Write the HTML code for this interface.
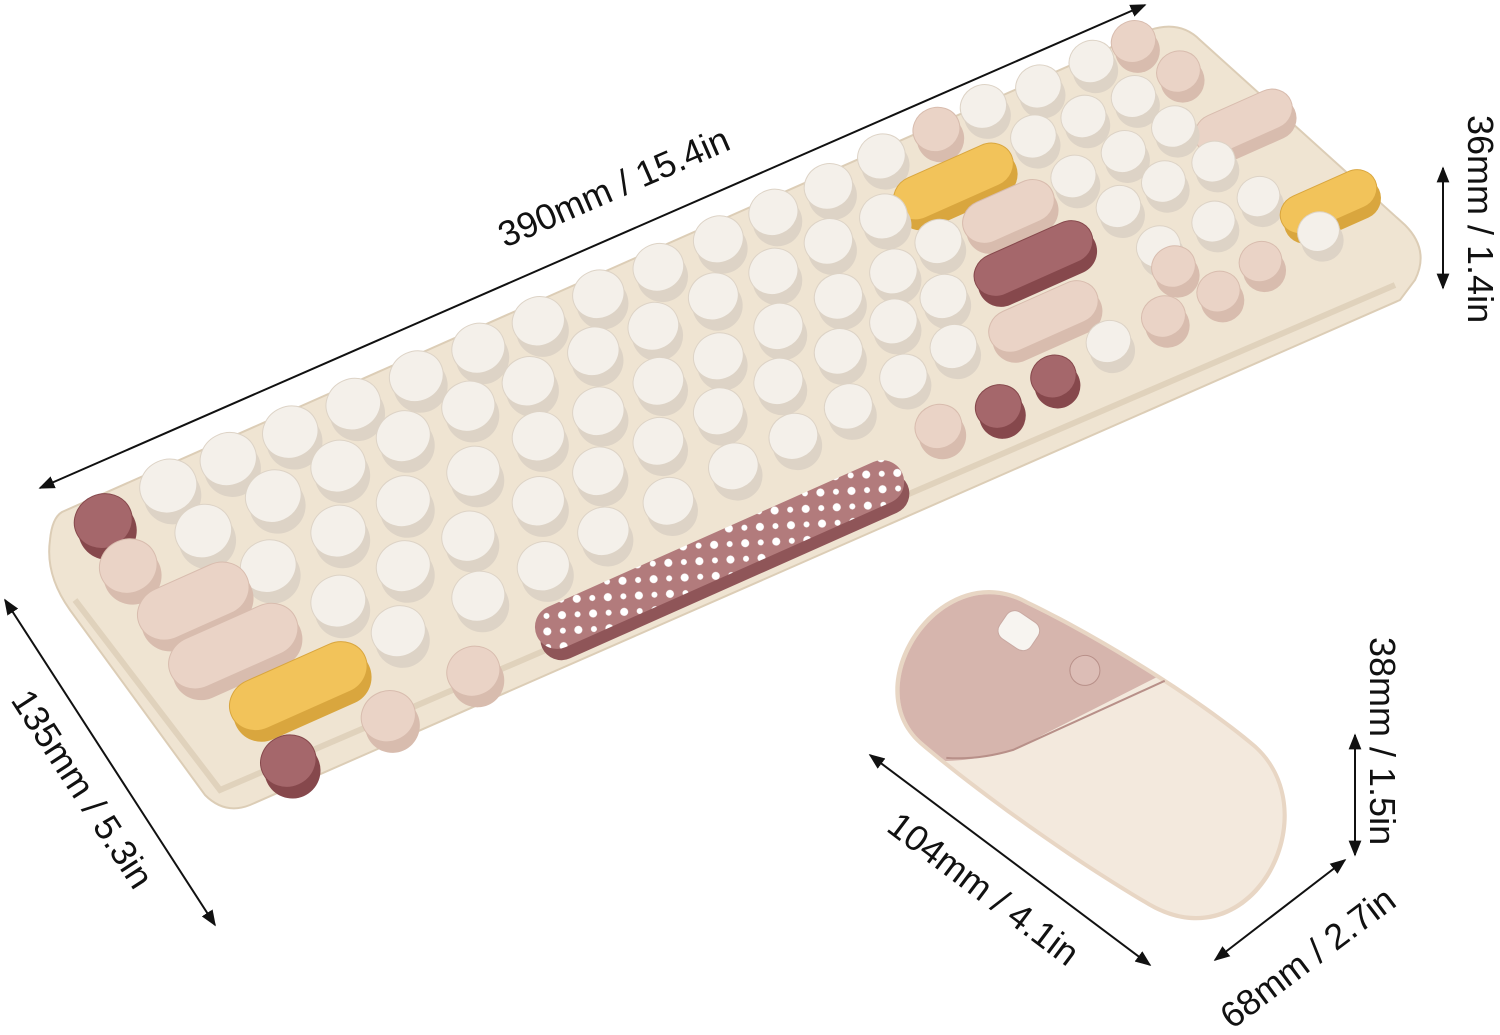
<!DOCTYPE html>
<html><head><meta charset="utf-8"><style>
html,body{margin:0;padding:0;background:#fff;width:1500px;height:1035px;overflow:hidden}
svg{display:block}
.d{font-family:"Liberation Sans",sans-serif;font-size:36px;fill:#111}
</style></head><body>
<svg id="s" width="1500" height="1035" viewBox="0 0 1500 1035" xmlns="http://www.w3.org/2000/svg">
<defs>
<marker id="a" viewBox="0 0 10 10" refX="9" refY="5" markerWidth="8" markerHeight="8" orient="auto-start-reverse"><path d="M0,1 L10,5 L0,9 z" fill="#111"/></marker>
<pattern id="dots" width="22" height="22" patternUnits="userSpaceOnUse" patternTransform="rotate(-24)"><rect width="22" height="22" fill="#b27b7c"/><circle cx="6" cy="6" r="4" fill="#fff"/><circle cx="17" cy="17" r="3" fill="#fff"/></pattern>
<clipPath id="mc"><path d="M-140,-84 C-60,-96 60,-100 130,-92 C226,-78 246,86 130,94 C40,100 -80,96 -150,88 C-234,76 -234,-76 -140,-84 Z"/></clipPath>
</defs>
<path d="M62,512 L1150,30 Q1180,20 1200,40 L1405,225 Q1430,250 1415,280 L1400,300 L250,805 Q225,815 205,795 L70,610 Q45,575 50,540 Q52,518 62,512 Z" fill="#efe4d2" stroke="#dccdb6" stroke-width="2"/>
<path d="M75,600 L220,790 L1395,285" fill="none" stroke="#e0d2bc" stroke-width="6"/>
<g id="keys"></g>
<g transform="translate(722,560) rotate(-24)"><rect x="-200" y="-14" width="400" height="42" rx="21" fill="#8f5558"/><rect x="-200" y="-28" width="400" height="44" rx="22" fill="url(#dots)"/></g>
<!-- mouse -->
<g transform="translate(1095,752) rotate(34)">
<path d="M-140,-88 C-60,-100 60,-104 130,-96 C232,-81 252,90 130,98 C40,104 -80,100 -150,92 C-240,80 -240,-80 -140,-88 Z" fill="#e8d6c4"/>
<g clip-path="url(#mc)">
<rect x="-250" y="-120" width="500" height="240" fill="#f3e9dd"/>
<path d="M-250,-130 L28,-130 L-69,44 Q-92,72 -120,92 L-250,100 Z" fill="#d6b5ad"/>
</g>
<path d="M18,-98 L-69,44 Q-92,72 -120,88" fill="none" stroke="#b89089" stroke-width="2"/>
<rect x="-150" y="-74" width="38" height="32" rx="10" fill="#f7f4f0" stroke="#c9a9a2"/>
<circle cx="-54" cy="-62" r="15" fill="#dcbdb6" stroke="#b89089"/>
</g>
<!-- dimensions -->
<line x1="40" y1="488" x2="1145" y2="5" stroke="#111" stroke-width="2" marker-start="url(#a)" marker-end="url(#a)"/>
<text class="d" transform="translate(505,248) rotate(-23.6)">390mm / 15.4in</text>
<line x1="5" y1="600" x2="215" y2="925" stroke="#111" stroke-width="2" marker-start="url(#a)" marker-end="url(#a)"/>
<text class="d" transform="translate(10,700) rotate(57)">135mm / 5.3in</text>
<line x1="1443" y1="168" x2="1443" y2="288" stroke="#111" stroke-width="2" marker-start="url(#a)" marker-end="url(#a)"/>
<text class="d" transform="translate(1468,115) rotate(90)">36mm / 1.4in</text>
<line x1="1355" y1="735" x2="1355" y2="855" stroke="#111" stroke-width="2" marker-start="url(#a)" marker-end="url(#a)"/>
<text class="d" transform="translate(1370,637) rotate(90)">38mm / 1.5in</text>
<line x1="870" y1="755" x2="1150" y2="965" stroke="#111" stroke-width="2" marker-start="url(#a)" marker-end="url(#a)"/>
<text class="d" transform="translate(885,830) rotate(37)">104mm / 4.1in</text>
<line x1="1215" y1="960" x2="1345" y2="860" stroke="#111" stroke-width="2" marker-start="url(#a)" marker-end="url(#a)"/>
<text class="d" transform="translate(1232,1030) rotate(-37)">68mm / 2.7in</text>
</svg>
<script>
var W="#f4f0ea",P="#ead3c6",M="#a5676b",Y="#f2c35a";
var K=[
[105,525,M,0],[170,490,W],[230,463,W],[292,436,W],[355,408,W],[418,380,W],[480,352,W],[540,325,W],[600,298,W],[660,271,W],[720,243,W],[775,216,W],[830,190,W],[883,160,W],[938,133,P],[985,110,W],[1040,90,W],[1093,65,W],[1135,45,P],
[130,570,P],[205,535,W],[275,500,W],[340,470,W],[405,440,W],[470,410,W],[530,385,W],[595,355,W],[655,330,W],[715,300,W],[775,275,W],[830,245,W],[885,220,W],[955,185,Y,40],[1035,140,W],[1085,120,W],[1135,100,W],[1180,75,P],
[195,605,P,30],[270,570,W],[340,535,W],[405,505,W],[475,475,W],[540,440,W],[600,415,W],[660,385,W],[720,360,W],[780,330,W],[840,300,W],[895,275,W],[940,245,W],[1010,215,P,25],[1075,180,W],[1125,155,W],[1175,130,W],[1245,125,P,30],
[235,650,P,40],[340,605,W],[405,570,W],[470,540,W],[540,505,W],[600,475,W],[660,445,W],[720,415,W],[780,385,W],[840,355,W],[895,325,W],[945,300,W],[1035,262,M,40],[1120,210,W],[1165,185,W],[1215,165,W],[1330,205,Y,30],
[300,690,Y,45],[400,635,W],[480,600,W],[545,570,W],[605,535,W],[670,505,W],[735,470,W],[795,440,W],[850,410,W],[905,380,W],[955,350,W],[1045,320,P,35],[1160,250,W],[1215,225,W],[1260,200,W],[1320,235,W],
[290,765,M],[390,720,P],[475,675,P],[940,430,P],[1000,410,M],[1055,380,M],[1110,345,W],[1165,320,P],[1220,295,P],[1262,265,P],[1175,270,P]
];
var g=document.getElementById("keys"),h="";
K.sort(function(a,b){return a[1]-b[1]});
K.forEach(function(k){var x=k[0],y=k[1],c=k[2],w=k[3]||0,r=30-x/150;
var sh=c==W?"#ddd3c6":c==P?"#d8bcae":c==M?"#86484c":"#d9a63e";
h+='<g transform="translate('+x+','+y+') rotate(-24)">';
h+='<rect x="'+(-r-w)+'" y="'+(-r+6)+'" width="'+(2*r+2*w)+'" height="'+(2*r)+'" rx="'+r+'" fill="'+sh+'"/>';
h+='<rect x="'+(-r-w)+'" y="'+(-r-2)+'" width="'+(2*r+2*w)+'" height="'+(2*r*0.92)+'" rx="'+r+'" fill="'+c+'" stroke="'+sh+'" stroke-width="1"/>';
h+='</g>';});
g.innerHTML=h;
</script>
</body></html>
